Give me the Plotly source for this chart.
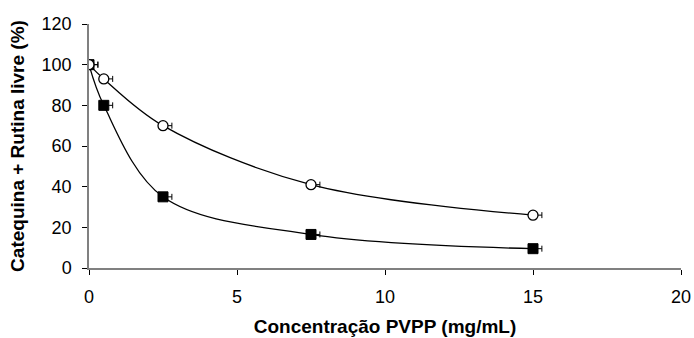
import plotly.graph_objects as go

conc = [0, 0.5, 2.5, 7.5, 15]
open_vals = [100, 93, 70, 41, 26]
filled_vals = [100, 80, 35, 16.5, 9.5]
err = [0.3, 0.3, 0.3, 0.3, 0.3]

fig = go.Figure()
fig.add_trace(go.Scatter(
    x=conc, y=filled_vals, mode="lines+markers", line=dict(color="black", width=1.3, shape="spline", smoothing=1.0),
    marker=dict(symbol="square", size=10, color="black", line=dict(color="black", width=1)),
    error_x=dict(type="data", array=err, symmetric=False, arrayminus=[0]*5, color="black", thickness=1, width=3),
    showlegend=False))
fig.add_trace(go.Scatter(
    x=conc, y=open_vals, mode="lines+markers", line=dict(color="black", width=1.3, shape="spline", smoothing=1.0),
    marker=dict(symbol="circle", size=10, color="white", line=dict(color="black", width=1.3)),
    error_x=dict(type="data", array=err, symmetric=False, arrayminus=[0]*5, color="black", thickness=1, width=3),
    showlegend=False))

font = "Liberation Sans, Arial, sans-serif"
fig.update_layout(
    width=694, height=338, margin=dict(l=89, r=13, t=24, b=70),
    plot_bgcolor="white", paper_bgcolor="white",
    font=dict(family=font, size=18, color="black"),
    xaxis=dict(range=[0, 20], tickvals=[0, 5, 10, 15, 20], showgrid=False, zeroline=False,
               showline=True, linecolor="#808080", linewidth=1.5, ticks="outside", ticklen=5,
               tickcolor="black", tickfont=dict(size=18), ticklabelstandoff=7, automargin=False,
               title=dict(text="<b>Concentração PVPP (mg/mL)</b>", font=dict(size=19), standoff=13)),
    yaxis=dict(range=[0, 120], tickvals=[0, 20, 40, 60, 80, 100, 120], showgrid=False, zeroline=False,
               showline=True, linecolor="#808080", linewidth=1.5, ticks="outside", ticklen=5,
               tickcolor="black", tickfont=dict(size=18), ticklabelstandoff=7, automargin=False,
               title=dict(text="<b>Catequina + Rutina livre (%)</b>", font=dict(size=19), standoff=12)),
)
fig.write_html("out.html")
